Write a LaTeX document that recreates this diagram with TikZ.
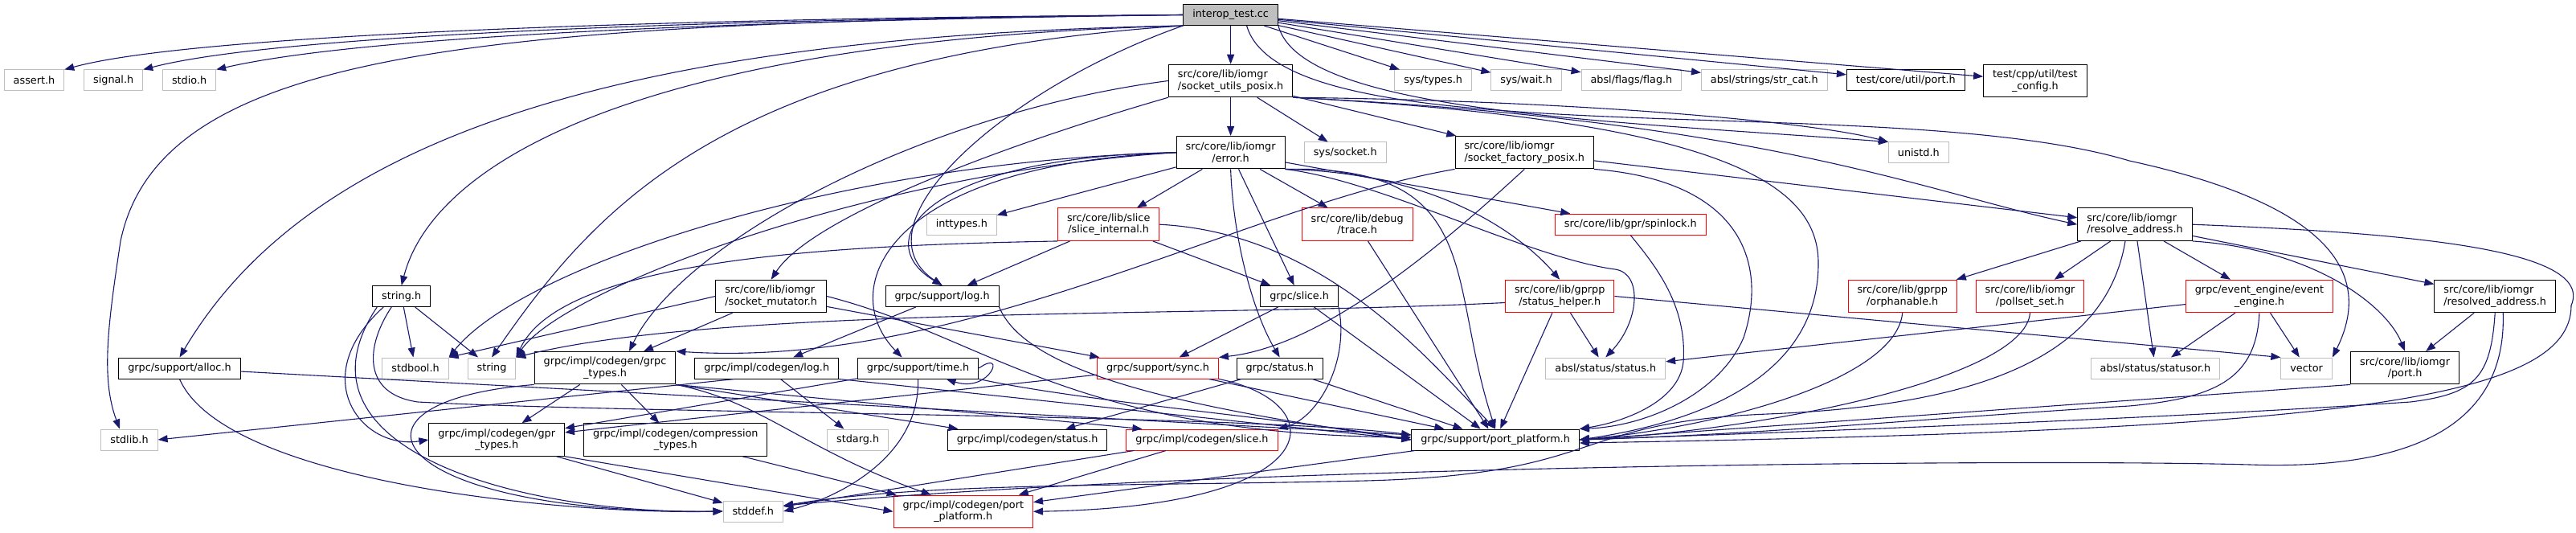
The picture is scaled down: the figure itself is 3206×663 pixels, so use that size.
\documentclass[tikz,border=0pt]{standalone}
\usepackage{fontspec}
\setmainfont{DejaVu Sans}
\usetikzlibrary{arrows.meta}
\definecolor{dxblue}{HTML}{191970}
\definecolor{dxgrey}{HTML}{BFBFBF}
\tikzset{
  file/.style = {shape=rectangle, draw=black, fill=white, line width=1pt,
                 align=center, inner xsep=11.5pt, inner ysep=0pt,
                 minimum height=26pt, font=\fontsize{12.8}{14.3}\selectfont},
  main/.style = {file, fill=dxgrey},
  sys/.style  = {file, draw=dxgrey},
  cut/.style  = {file, draw=red},
  tall/.style = {minimum height=40.5pt},
  dep/.style  = {draw=dxblue, line width=1.1pt, -{Triangle[length=12pt,width=9pt]}}
}

\begin{document}
\begin{tikzpicture}[x=1pt,y=-1pt]
  \useasboundingbox (0,0) rectangle (3206,663);

  \node[main] (root) at (1531.6,18.5) {interop\_test.cc};

  \node[sys] (assert) at (42.5,100) {assert.h};
  \node[sys] (signal) at (141.2,100) {signal.h};
  \node[sys] (stdio) at (235.6,100) {stdio.h};
  \node[file,tall,align=left] (sockutils) at (1531.6,100.5) {src/core/lib/iomgr\\/socket\_utils\_posix.h};
  \node[sys] (systypes) at (1783.6,100) {sys/types.h};
  \node[sys] (syswait) at (1899.5,100) {sys/wait.h};
  \node[sys] (flag) at (2030.4,100) {absl/flags/flag.h};
  \node[sys] (strcat) at (2195.8,100) {absl/strings/str\_cat.h};
  \node[file] (utilport) at (2371.8,100) {test/core/util/port.h};
  \node[file,tall] (testconfig) at (2532.9,100.5) {test/cpp/util/test\\\_config.h};

  \node[file,tall] (error) at (1531.6,189.7) {src/core/lib/iomgr\\/error.h};
  \node[sys] (syssocket) at (1674.2,190) {sys/socket.h};
  \node[file,tall,align=left] (sockfactory) at (1897.3,189.7) {src/core/lib/iomgr\\/socket\_factory\_posix.h};
  \node[sys] (unistd) at (2387.8,190) {unistd.h};

  \node[sys] (inttypes) at (1196.8,279.3) {inttypes.h};
  \node[cut,tall] (sliceint) at (1379.7,279.2) {src/core/lib/slice\\/slice\_internal.h};
  \node[cut,tall] (trace) at (1689.2,279.2) {src/core/lib/debug\\/trace.h};
  \node[cut] (spinlock) at (2029.3,279.2) {src/core/lib/gpr/spinlock.h};
  \node[file,tall,align=left] (resolve) at (2657,279.2) {src/core/lib/iomgr\\/resolve\_address.h};

  \node[file] (stringh) at (499.7,368.5) {string.h};
  \node[file,tall,align=left] (sockmutator) at (959.7,368.5) {src/core/lib/iomgr\\/socket\_mutator.h};
  \node[file] (logh) at (1172.6,368.5) {grpc/support/log.h};
  \node[file] (gslice) at (1617.1,368.5) {grpc/slice.h};
  \node[cut,tall] (statushelper) at (1941.2,368.5) {src/core/lib/gprpp\\/status\_helper.h};
  \node[cut,tall] (orphan) at (2367.7,368.5) {src/core/lib/gprpp\\/orphanable.h};
  \node[cut,tall] (pollset) at (2526.5,368.5) {src/core/lib/iomgr\\/pollset\_set.h};
  \node[cut,tall] (eventengine) at (2811.9,368.5) {grpc/event\_engine/event\\\_engine.h};
  \node[file,tall,align=left] (resolved) at (3105.2,368.5) {src/core/lib/iomgr\\/resolved\_address.h};

  \node[file] (alloc) at (223.5,458) {grpc/support/alloc.h};
  \node[sys] (stdbool) at (517,458) {stdbool.h};
  \node[sys] (stringcpp) at (612,458) {string};
  \node[file,tall] (grpctypes) at (753,457.7) {grpc/impl/codegen/grpc\\\_types.h};
  \node[file] (cglog) at (954.2,458) {grpc/impl/codegen/log.h};
  \node[file] (timeh) at (1142.6,458) {grpc/support/time.h};
  \node[cut] (sync) at (1441,458) {grpc/support/sync.h};
  \node[file] (gstatus) at (1592.7,458) {grpc/status.h};
  \node[sys] (abslstatus) at (1998.3,458) {absl/status/status.h};
  \node[sys] (statusor) at (2682.5,458) {absl/status/statusor.h};
  \node[sys] (vector) at (2870.6,458) {vector};
  \node[file,tall] (iomgrport) at (2993.1,457.7) {src/core/lib/iomgr\\/port.h};

  \node[sys] (stdlib) at (161,547) {stdlib.h};
  \node[file,tall] (gprtypes) at (618.2,547) {grpc/impl/codegen/gpr\\\_types.h};
  \node[file,tall] (comptypes) at (840.8,547) {grpc/impl/codegen/compression\\\_types.h};
  \node[sys] (stdarg) at (1067.6,547) {stdarg.h};
  \node[file] (cgstatus) at (1278.6,547) {grpc/impl/codegen/status.h};
  \node[cut] (cgslice) at (1496,547) {grpc/impl/codegen/slice.h};
  \node[file] (portplat) at (1861.1,547) {grpc/support/port\_platform.h};

  \node[sys] (stddef) at (937.3,636) {stddef.h};
  \node[cut,tall] (cgport) at (1198.8,636.3) {grpc/impl/codegen/port\\\_platform.h};

  \foreach \a/\b in {root/sockutils, root/systypes, root/syswait, root/flag, root/strcat,
                     root/utilport, root/testconfig, sockutils/error, sockutils/syssocket,
                     sockutils/sockfactory, error/inttypes, error/sliceint, error/gslice,
                     error/trace, error/spinlock, sockfactory/resolve, sockmutator/grpctypes,
                     sockmutator/sync, stringh/stdbool, stringh/stringcpp, sliceint/logh,
                     sliceint/gslice, trace/portplat, statushelper/abslstatus,
                     statushelper/portplat, logh/cglog, timeh/gprtypes, gslice/sync,
                     gslice/portplat, gstatus/cgstatus, gstatus/portplat, sync/gprtypes,
                     sync/portplat, grpctypes/gprtypes, grpctypes/comptypes, cglog/stdarg,
                     gprtypes/stddef, comptypes/cgport, cgslice/stddef, cgslice/cgport,
                     portplat/cgport, resolve/orphan, resolve/pollset, resolve/statusor,
                     resolve/eventengine, resolve/resolved, eventengine/statusor,
                     eventengine/vector, eventengine/abslstatus, resolved/iomgrport}
    \draw[dep] (\a) -- (\b);

  \draw[dep] (sockmutator.west) -- (stdbool.north east);
  \draw[dep] (grpctypes.south east) -- (cgstatus);
  \draw[dep] (grpctypes.south east) -- ([xshift=20pt]cgslice.north west);
  \draw[dep] (gprtypes.south east) -- (cgport.west);
  \draw[dep] ([xshift=50pt]cglog.south west) -- (stdlib.east);
  \draw[dep] (cglog.south east) -- (portplat.west);
  \draw[dep] (alloc) -- ([yshift=6pt]portplat.west);
  \draw[dep] (statushelper.east) -- (vector.north west);
  \draw[dep] (iomgrport.south west) -- (portplat.east);

  \draw[dep] (root.west) .. controls (900,22) and (250,40) .. (assert.north east);
  \draw[dep] (root.west) .. controls (900,24) and (350,42) .. (signal.north east);
  \draw[dep] (root.west) .. controls (900,26) and (450,45) .. (stdio.north east);
  \draw[dep] (root.west) .. controls (600,28) and (200,60) .. (150,300)
                         .. controls (135,400) and (125,470) .. ([xshift=-12pt]stdlib.north);
  \draw[dep] (root.south west) .. controls (750,45) and (380,180) .. (alloc.north);
  \draw[dep] (root.south west) .. controls (800,50) and (540,200) .. (stringh.north);
  \draw[dep] (root.south west) .. controls (900,70) and (740,260) .. (stringcpp.north);
  \draw[dep] (root.south west) .. controls (1250,110) and (1060,280) .. (logh.north);
  \draw[dep] (root.south east) .. controls (1620,140) and (2000,150) .. (unistd.north west);
  \draw[dep] ([xshift=20pt]root.south) .. controls (1600,200) and (2350,110) .. (2650,200)
                                     .. controls (2880,250) and (2960,330) .. (vector.north east);

  \draw[dep] (sockutils.south west) .. controls (1250,180) and (1010,270) .. (sockmutator.north);
  \draw[dep] (sockutils.west) .. controls (1150,140) and (850,300) .. ([xshift=30pt]grpctypes.north);
  \draw[dep] (sockutils.south east) .. controls (1950,125) and (2250,150) .. (unistd.north west);
  \draw[dep] (sockutils.south east) .. controls (2200,150) and (2400,240) .. (resolve.west);
  \draw[dep] (sockutils.south east) .. controls (2150,150) and (2265,230) .. (2263,330)
                                  .. controls (2262,450) and (2150,520) .. (portplat.east);

  \draw[dep] (error.west) .. controls (1050,200) and (650,330) .. (stdbool.north east);
  \draw[dep] (error.west) .. controls (1080,215) and (700,360) .. (stringcpp.north east);
  \draw[dep] (error.west) .. controls (1150,195) and (1080,300) .. (logh.north);
  \draw[dep] (error.west) .. controls (1100,205) and (1040,360) .. ([xshift=-20pt]timeh.north);
  \draw[dep] (error.south) .. controls (1535,300) and (1560,390) .. (gstatus.north);
  \draw[dep] (error.south east) .. controls (1800,215) and (1900,300) .. (statushelper.north);
  \draw[dep] (error.south east) .. controls (1720,225) and (1900,320) .. (2010,335)
                              .. controls (2045,340) and (2040,400) .. (abslstatus.north);
  \draw[dep] (error.south east) .. controls (1850,205) and (1800,350) .. (portplat.north);

  \draw[dep] (sliceint.south west) .. controls (1050,305) and (700,320) .. (stringcpp.north east);
  \draw[dep] (sliceint.east) .. controls (1650,290) and (1780,450) .. (portplat.north);

  \draw[dep] (sockfactory.south west) .. controls (1550,255) and (1200,460) .. (grpctypes.north east);
  \draw[dep] (sockfactory.south) .. controls (1800,300) and (1650,430) .. (sync.north east);
  \draw[dep] (sockfactory.south east) .. controls (2170,225) and (2200,330) .. (2170,420)
                                    .. controls (2140,490) and (2050,530) .. (portplat.north east);

  \draw[dep] ([yshift=-8pt]statushelper.west) .. controls (1500,395) and (900,380) .. (stringcpp.north east);
  \draw[dep] (logh.south east) .. controls (1280,470) and (1500,510) .. (portplat.west);
  \draw[dep] (timeh.south east) .. controls (1350,500) and (1600,520) .. (portplat.west);
  \draw[dep] (sockmutator.east) .. controls (1230,420) and (1330,540) .. ([yshift=3pt]portplat.west);
  \draw[dep] ([xshift=24pt]stringh.south west) .. controls (455,430) and (450,490) .. (520,500)
                                             .. controls (800,515) and (1550,515) .. ([yshift=6pt]portplat.west);
  \draw[dep] ([xshift=6pt]stringh.south west) .. controls (350,560) and (650,640) .. (stddef.west);
  \draw[dep] ([xshift=14pt]stringh.south west) .. controls (380,470) and (450,560) .. (gprtypes.west);
  \draw[dep] (alloc.south) .. controls (280,600) and (700,640) .. (stddef.west);
  \draw[dep] (grpctypes.south west) .. controls (400,500) and (480,640) .. (stddef.west);
  \draw[dep] (grpctypes.south east) .. controls (950,500) and (1000,560) .. ([xshift=-40pt]cgport.north);

  \draw[dep] (timeh.east) .. controls +(35,-25) and +(55,18) .. ([xshift=35pt]timeh.south);
  \draw[dep] (timeh.south) .. controls (1145,570) and (1040,620) .. (stddef.east);
  \draw[dep] (gslice.south east) .. controls (1680,450) and (1640,520) .. (cgslice.north east);
  \draw[dep] (sync.south east) .. controls (1660,500) and (1660,630) .. (cgport.east);
  \draw[dep] (spinlock.south) .. controls (2060,330) and (2100,380) .. (2095,450)
                             .. controls (2090,500) and (2020,525) .. (portplat.north east);

  \draw[dep] (resolve.east) .. controls (3000,290) and (3230,310) .. (3200,380)
                          .. controls (3200,500) and (2900,535) .. ([yshift=-4pt]portplat.east);
  \draw[dep] ([xshift=-12pt]resolve.south) .. controls (2620,450) and (2450,505) .. (2200,515)
                                          .. controls (1950,525) and (2000,590) .. (1700,598)
                                          .. controls (1400,605) and (1150,600) .. ([yshift=7pt]stddef.east);
  \draw[dep] (resolve.south east) .. controls (2880,310) and (2970,380) .. (iomgrport.north);
  \draw[dep] (resolved.south) .. controls (3100,470) and (3080,490) .. (3000,500)
                            .. controls (2700,520) and (2300,535) .. (portplat.east);
  \draw[dep] ([xshift=10pt]resolved.south) .. controls (3120,530) and (3000,585) .. (2800,578)
                                         .. controls (2500,570) and (1500,580) .. ([yshift=7pt]stddef.east);
  \draw[dep] (eventengine.south) .. controls (2808,470) and (2760,495) .. (2650,505)
                               .. controls (2400,520) and (2200,540) .. (portplat.east);
  \draw[dep] (orphan.south) .. controls (2360,470) and (2150,530) .. (portplat.east);
  \draw[dep] (pollset.south) .. controls (2520,470) and (2200,535) .. (portplat.east);
\end{tikzpicture}
\end{document}
